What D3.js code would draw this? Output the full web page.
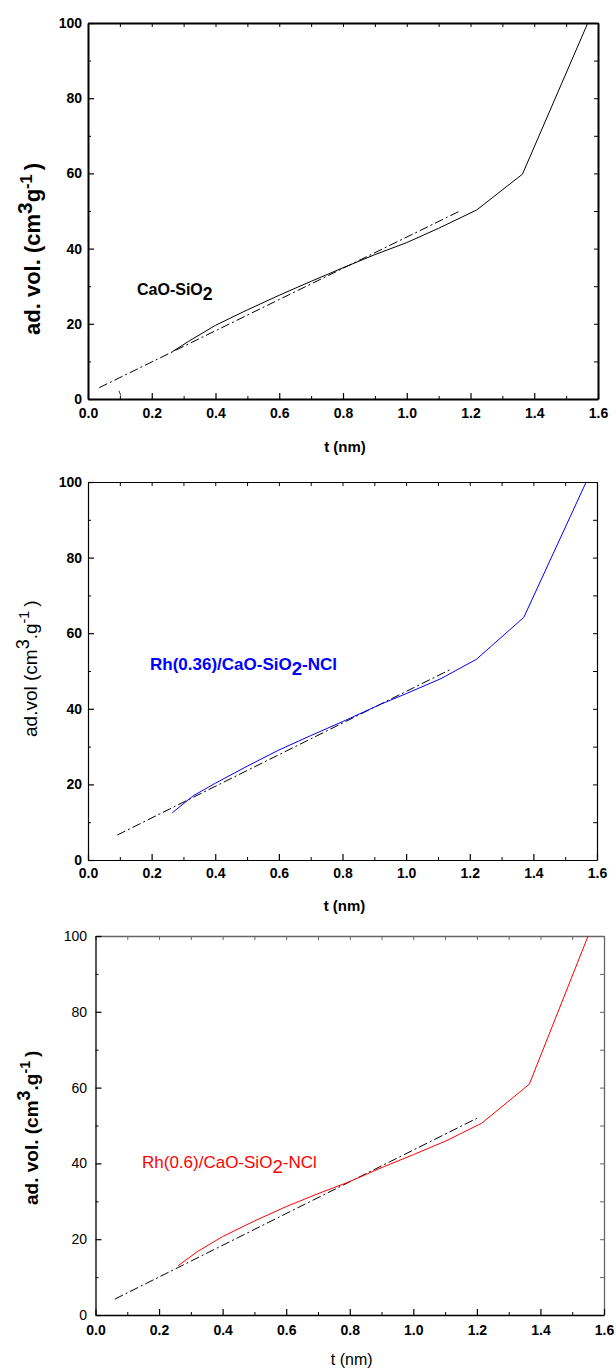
<!DOCTYPE html>
<html>
<head>
<meta charset="utf-8">
<script src="https://cdn.jsdelivr.net/npm/d3@7"></script>
<style>
  body { margin: 0; background: #fff; }
  svg { display: block; font-family: Arial, "Liberation Sans", sans-serif; }
</style>
</head>
<body>
<div id="chart"></div>
<script>
var tTicks = [0.0, 0.2, 0.4, 0.6, 0.8, 1.0, 1.2, 1.4, 1.6];
var volTicks = [0, 20, 40, 60, 80, 100];

// CaO-SiO2
var t1 = [0.265, 0.315, 0.4, 0.5, 0.6, 0.7, 0.8, 0.9, 1.0, 1.1, 1.22, 1.363, 1.568];
var v1 = [12.6, 15.3, 19.6, 23.7, 27.6, 31.3, 34.9, 38.4, 41.6, 45.4, 50.3, 59.8, 100];
var fit1T = [0.035, 1.167];
var fit1V = [3.0, 50.0];
var strayT = [0.097, 0.103];
var strayV = [2.2, 0.9];

// Rh(0.36)/CaO-SiO2-NCl
var t2 = [0.265, 0.331, 0.4, 0.5, 0.6, 0.7, 0.8, 0.92, 1.0, 1.11, 1.221, 1.37, 1.566];
var v2 = [12.5, 17.0, 20.3, 24.8, 29.1, 32.9, 36.6, 41.2, 44.0, 48.0, 53.1, 64.2, 100];
var fit2T = [0.092, 1.139];
var fit2V = [6.6, 50.4];

// Rh(0.6)/CaO-SiO2-NCl
var t3 = [0.26, 0.32, 0.4, 0.5, 0.6, 0.7, 0.8, 0.895, 1.0, 1.102, 1.215, 1.365, 1.55];
var v3 = [13.0, 16.7, 20.7, 24.8, 28.6, 32.0, 35.2, 38.7, 42.3, 45.9, 50.6, 60.9, 100];
var fit3T = [0.061, 1.2];
var fit3V = [4.2, 51.9];

function zip(ts, vs) {
    return ts.map(function(t, i) { return [t, vs[i]]; });
}

var svg = d3.select("#chart").append("svg")
    .attr("width", 616)
    .attr("height", 1369);

// one panel per sample, each with its own look
var panels = [
    { box: [88, 23, 598, 399], curve: zip(t1, v1), fit: zip(fit1T, fit1V), extra: zip(strayT, strayV),
      color: "#000", axisW: 2, sideColor: "#000", yBold: true, tickX: 82,
      label: ["CaO-SiO", "2", ""], labelPos: [137, 295], labelSize: 16, labelBold: true,
      yTitle: ["ad. vol. (cm", "3", "g", "-1", ")"], yTitleBold: true, yTitleSize: 22, yTitlePos: [40, 335],
      xTitleBold: true, xTitleSize: 15, tickBase: 418, xTitleBase: 452 },
    { box: [88, 482, 597, 860], curve: zip(t2, v2), fit: zip(fit2T, fit2V), extra: null,
      color: "#0000ff", axisW: 1.2, sideColor: "#000", yBold: true, tickX: 82,
      label: ["Rh(0.36)/CaO-SiO", "2", "-NCl"], labelPos: [150, 670], labelSize: 17, labelBold: true,
      yTitle: ["ad.vol (cm", "3", ".g", "-1", ")"], yTitleBold: false, yTitleSize: 19, yTitlePos: [37, 737],
      xTitleBold: true, xTitleSize: 15, tickBase: 878, xTitleBase: 911 },
    { box: [95.5, 936, 604, 1315], curve: zip(t3, v3), fit: zip(fit3T, fit3V), extra: null,
      color: "#ff0000", axisW: 1.3, sideColor: "#666", yBold: false, tickX: 87,
      label: ["Rh(0.6)/CaO-SiO", "2", "-NCl"], labelPos: [142, 1168], labelSize: 17, labelBold: false,
      yTitle: ["ad. vol. (cm", "3", ".g", "-1", ")"], yTitleBold: true, yTitleSize: 19, yTitlePos: [38, 1205],
      xTitleBold: false, xTitleSize: 16, tickBase: 1335, xTitleBase: 1365 }
];

panels.forEach(function(p) {
    var x = d3.scaleLinear().domain([0, 1.6]).range([p.box[0], p.box[2]]);
    var y = d3.scaleLinear().domain([0, 100]).range([p.box[3], p.box[1]]);
    var g = svg.append("g");

    var line = d3.line()
        .x(function(d) { return x(d[0]); })
        .y(function(d) { return y(d[1]); });

    // frame: top and right first so left/bottom sit on top
    var minorX = d3.range(0.1, 1.6, 0.2);
    var minorY = d3.range(10, 100, 20);

    function frameSide(axis, transform, color) {
        var a = g.append("g").attr("transform", transform).call(axis);
        a.selectAll("text").remove();
        a.select(".domain").attr("stroke", color).attr("stroke-width", p.axisW);
        a.selectAll(".tick line").attr("stroke", color).attr("stroke-width", 1);
        return a;
    }

    frameSide(d3.axisBottom(x).tickValues(tTicks.concat(minorX)).tickSizeOuter(0)
        .tickSizeInner(4), "translate(0," + p.box[1] + ")", p.sideColor);
    frameSide(d3.axisLeft(y).tickValues(volTicks.concat(minorY)).tickSizeOuter(0)
        .tickSizeInner(4), "translate(" + p.box[2] + ",0)", p.sideColor);

    // bottom axis, ticks pointing inward
    var xa = g.append("g").attr("transform", "translate(0," + p.box[3] + ")")
        .call(d3.axisTop(x).tickValues(tTicks).tickSizeOuter(0).tickSizeInner(6).tickFormat(d3.format(".1f")));
    xa.select(".domain").attr("stroke", "#000").attr("stroke-width", p.axisW);
    xa.selectAll(".tick line").attr("stroke", "#000").attr("stroke-width", 1.2);
    xa.selectAll(".tick text")
        .attr("y", p.tickBase - p.box[3])
        .attr("dy", null)
        .attr("fill", "#000")
        .attr("font-size", 14)
        .attr("font-weight", "bold")
        .attr("font-family", "Arial, 'Liberation Sans', sans-serif");
    g.append("g").attr("transform", "translate(0," + p.box[3] + ")")
        .call(d3.axisTop(x).tickValues(minorX).tickSizeOuter(0).tickSizeInner(3).tickFormat(""))
        .call(function(s) { s.select(".domain").remove(); s.selectAll("line").attr("stroke", "#000"); });

    // left axis
    var ya = g.append("g").attr("transform", "translate(" + p.box[0] + ",0)")
        .call(d3.axisRight(y).tickValues(volTicks).tickSizeOuter(0).tickSizeInner(6));
    ya.select(".domain").attr("stroke", "#000").attr("stroke-width", p.axisW);
    ya.selectAll(".tick line").attr("stroke", "#000").attr("stroke-width", 1.2);
    ya.selectAll(".tick text")
        .attr("x", p.tickX - p.box[0])
        .attr("text-anchor", "end")
        .attr("fill", "#000")
        .attr("font-size", 14)
        .attr("font-weight", p.yBold ? "bold" : "normal")
        .attr("font-family", "Arial, 'Liberation Sans', sans-serif");
    g.append("g").attr("transform", "translate(" + p.box[0] + ",0)")
        .call(d3.axisRight(y).tickValues(minorY).tickSizeOuter(0).tickSizeInner(3).tickFormat(""))
        .call(function(s) { s.select(".domain").remove(); s.selectAll("line").attr("stroke", "#000"); });

    // dash-dot linear fit
    g.append("path")
        .datum(p.fit)
        .attr("d", line)
        .attr("fill", "none")
        .attr("stroke", "#000")
        .attr("stroke-width", 1)
        .attr("stroke-dasharray", "9,3,2,3");

    if (p.extra) {
        g.append("path").datum(p.extra).attr("d", line)
            .attr("fill", "none").attr("stroke", "#000").attr("stroke-width", 0.8);
    }

    // isotherm in t-form
    g.append("path")
        .datum(p.curve)
        .attr("d", line)
        .attr("fill", "none")
        .attr("stroke", p.color)
        .attr("stroke-width", 1);

    // sample label with subscript
    var lab = g.append("text")
        .attr("x", p.labelPos[0])
        .attr("y", p.labelPos[1])
        .attr("fill", p.color)
        .attr("font-size", p.labelSize)
        .attr("font-weight", p.labelBold ? "bold" : "normal");
    lab.append("tspan").text(p.label[0]);
    lab.append("tspan").attr("dy", 5).attr("font-size", p.labelSize * 1.1).text(p.label[1]);
    lab.append("tspan").attr("dy", -5).text(p.label[2]);

    // y title, rotated with superscripts
    var yt = g.append("text")
        .attr("transform", "translate(" + p.yTitlePos[0] + "," + p.yTitlePos[1] + ") rotate(-90)")
        .attr("fill", "#000")
        .attr("font-size", p.yTitleSize)
        .attr("font-weight", p.yTitleBold ? "bold" : "normal");
    yt.append("tspan").text(p.yTitle[0]);
    yt.append("tspan").attr("dy", -8).attr("font-size", p.yTitleSize * 0.95).text(p.yTitle[1]);
    yt.append("tspan").attr("dy", 8).text(p.yTitle[2]);
    yt.append("tspan").attr("dy", -8).attr("font-size", p.yTitleSize * 0.75).text(p.yTitle[3]);
    yt.append("tspan").attr("dy", 8).attr("dx", 4).text(p.yTitle[4]);

    // x title
    g.append("text")
        .attr("x", (p.box[0] + p.box[2]) / 2 + 2)
        .attr("y", p.xTitleBase)
        .attr("text-anchor", "middle")
        .attr("fill", "#000")
        .attr("font-size", p.xTitleSize)
        .attr("font-weight", p.xTitleBold ? "bold" : "normal")
        .text("t (nm)");
});
</script>
</body>
</html>
